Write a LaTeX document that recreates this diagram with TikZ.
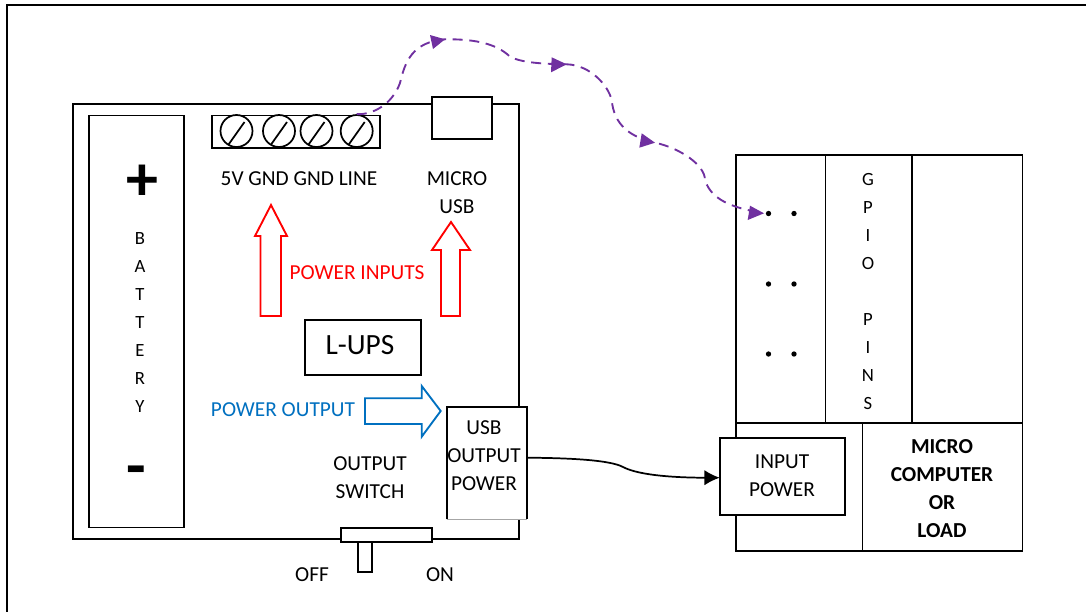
\documentclass[tikz,border=0pt]{standalone}
\usepackage{fontspec}
\setmainfont{Carlito}
\usetikzlibrary{arrows.meta}
\definecolor{wirepurple}{HTML}{7030A0}
\definecolor{outblue}{HTML}{0070C0}
\tikzset{x=0.75pt,y=-0.75pt,
 box/.style={draw=black,line width=1.4pt,fill=white,inner sep=0pt,outer sep=0pt,anchor=north west},
 lbl/.style={font=\fontsize{16}{19}\selectfont,text=black,align=center,inner sep=0pt},
 lblii/.style={font=\fontsize{16}{21}\selectfont,text=black,align=center,inner sep=0pt},
 lblv/.style={font=\fontsize{14}{21}\selectfont,text=black,align=center,inner sep=0pt},
 lblb/.style={font=\fontsize{16}{21}\selectfont\bfseries,text=black,align=center,inner sep=0pt},
 screw/.style={circle,draw=black,line width=1.3pt,minimum size=24pt,inner sep=0pt,
   path picture={\draw[line width=1.3pt] ([shift={(-9,15)}]path picture bounding box.center) -- ([shift={(8,-9)}]path picture bounding box.center);}},
 dot/.style={circle,fill=black,minimum size=4pt,inner sep=0pt},
 hollow/.style={line width=1.4pt,fill=white,line join=miter},
}
\newcommand{\bx}[5]{\node[box,minimum width=#4*0.75pt,minimum height=#5*0.75pt] (#1) at (#2,#3) {};}
\begin{document}
\begin{tikzpicture}
\useasboundingbox (0,0) rectangle (1086,611);
\fill[white] (0,0) rectangle (1086,611);
\clip (0,0) rectangle (1086,611);
% outer frame
\bx{frame}{7}{5}{1200}{700}
% L-UPS board
\bx{board}{72.7}{104.3}{446}{435}
\bx{battery}{89}{115.5}{95}{412}
\bx{terminal}{212}{115.5}{168}{32.5}
\node[screw] (s1) at (236.5,131) {};
\node[screw] (s2) at (279,131) {};
\node[screw] (s3) at (316.5,131) {};
\node[screw] (s4) at (356.7,131) {};
\bx{usb}{431.7}{97.3}{60.6}{42}
\bx{lups}{305}{320}{116}{55}
% USB output block: three black sides, a thin grey bottom
\node[anchor=north west,fill=white,outer sep=0pt,minimum width=80.6*0.75pt,minimum height=112.6*0.75pt,inner sep=0pt] (usbout) at (446.7,406.7) {};
\draw[black,line width=1.4pt] (usbout.south west) -- (usbout.north west) -- (usbout.north east) -- (usbout.south east);
\draw[gray!70,line width=.8pt] (usbout.south west) -- (usbout.south east);
\bx{switch}{341}{527.7}{91}{14}
\bx{lever}{358}{541.7}{14}{30}
% micro computer
\bx{gpioL}{736}{155}{89.5}{268}
\bx{gpioM}{825.5}{155}{86.7}{268}
\bx{gpioR}{912.2}{155}{110.3}{268}
\bx{lowL}{736}{422.8}{126.5}{128.2}
\bx{lowR}{862.5}{422.8}{160}{128.2}
\bx{inpow}{719.8}{437.8}{125}{77.5}
% labels
\node[lbl,font=\fontsize{48}{48}\selectfont\bfseries] (plus) at (142,183) {+};
\node[lbl,font=\fontsize{48}{48}\selectfont\bfseries] (minus) at (136,477) {-};
\node[lblv] (bat) at (140,323) {B\\A\\T\\T\\E\\R\\Y};
\node[lbl] (tlabels) at (299,179) {5V GND GND LINE};
\node[lblii] (mu) at (457,193) {MICRO\\USB};
\node[lbl,text=red] (pin) at (357,273) {POWER INPUTS};
\node[lbl,font=\fontsize{22}{24}\selectfont] (lt) at (360,345) {L-UPS};
\node[lbl,text=outblue] (pout) at (283,410) {POWER OUTPUT};
\node[lblii] (os) at (370,477.5) {OUTPUT\\SWITCH};
\node[lblii] (uo) at (484,456) {USB\\OUTPUT\\POWER};
\node[lbl] (off) at (312,575) {OFF};
\node[lbl] (on) at (440,575) {ON};
\node[lblii] (ip) at (782,476) {INPUT\\POWER};
\node[lblb] (mc) at (942,489) {MICRO\\COMPUTER\\OR\\LOAD};
\node[lblv] (g1) at (868,222) {G\\P\\I\\O};
\node[lblv] (g2) at (868,362) {P\\I\\N\\S};
% pins
\node[dot] (p1) at (768.5,213.5) {}; \node[dot] (p2) at (794,213.5) {};
\node[dot] (p3) at (768.5,284) {}; \node[dot] (p4) at (794,284) {};
\node[dot] (p5) at (768.5,354) {}; \node[dot] (p6) at (794,354) {};
% hollow arrows
\draw[hollow,draw=red] (260.5,316) -- (260.5,236) -- (255,236) -- (271,205) -- (287,236) -- (281,236) -- (281,316) -- cycle;
\draw[hollow,draw=red] (441,316) -- (441,250) -- (432,250) -- (451,222) -- (470,250) -- (460,250) -- (460,316) -- cycle;
\draw[hollow,draw=outblue] (365,398.3) -- (421.7,398.3) -- (421.7,386) -- (440.7,411) -- (421.7,436.7) -- (421.7,424) -- (365,424) -- cycle;
% black connector
\coordinate (cstart) at (usbout.east |- 0,457.7);
\coordinate (cend) at (inpow.west |- 0,477.7);
\draw[line width=1.3pt,-{Latex[length=11.5pt,width=11.5pt]}] (cstart) .. controls (570,458) and (610,460) .. (623,467) .. controls (640,476) and (680,477.7) .. (cend);
% purple wire
\coordinate (wstart) at (s4.north);
\coordinate (w1) at (445,39.3);
\coordinate (w2) at (566.7,64.3);
\coordinate (w3) at (655,142.7);
\coordinate (w4) at (764,213.3);
\draw[wirepurple,line width=1.4pt,dash pattern=on 7.5pt off 5pt]
 (wstart) .. controls (372,115) and (392,105) .. (400,83)
 .. controls (405,62) and (412,42) .. (w1)
 .. controls (470,39) and (495,42) .. (510,56.7)
 .. controls (522,63) and (545,64) .. (w2)
 .. controls (590,65) and (608,85) .. (611.7,100)
 .. controls (614,125) and (630,137) .. (w3)
 .. controls (680,148) and (705,165) .. (705,180)
 .. controls (712,203) and (740,209) .. (w4);
\fill[wirepurple] (w1) -- (430,35) -- (433,49) -- cycle;
\fill[wirepurple] (w2) -- (551.7,57.3) -- (551,72.3) -- cycle;
\fill[wirepurple] (w3) -- (641.7,133.3) -- (639.3,147.7) -- cycle;
\fill[wirepurple] (w4) -- (750,205.7) -- (747.7,220) -- cycle;
\end{tikzpicture}
\end{document}
